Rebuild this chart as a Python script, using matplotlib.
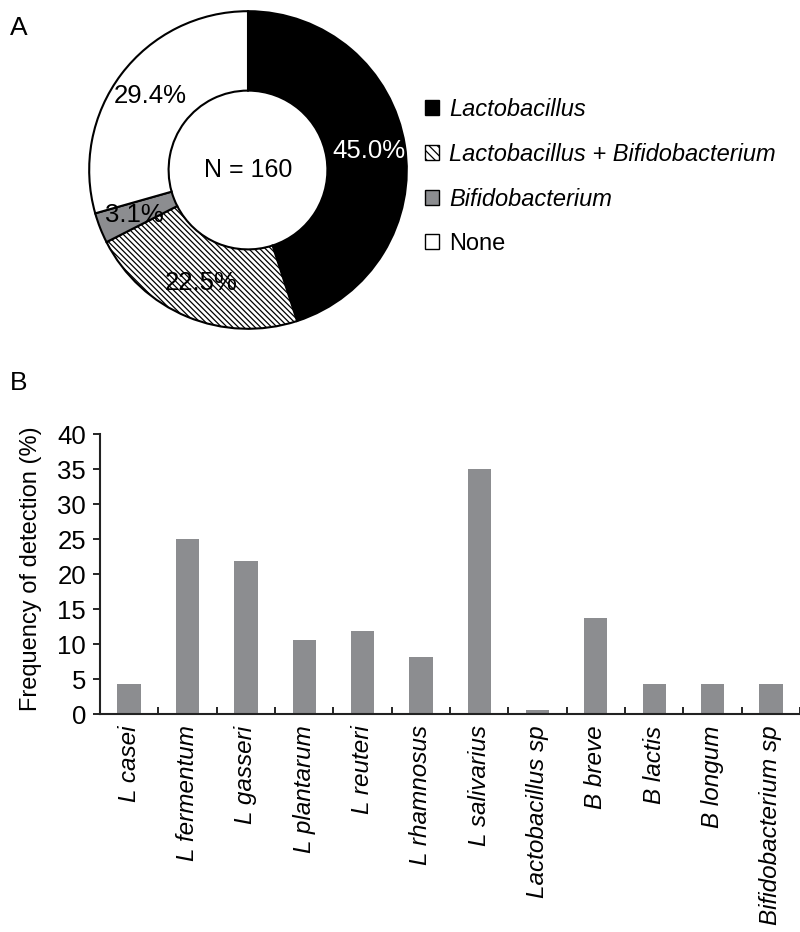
import matplotlib
matplotlib.use('Agg')
import matplotlib.pyplot as plt
from matplotlib.patches import Patch
import numpy as np

#%% Plot features
plt.rcParams.update({'font.family': ['Liberation Sans', 'DejaVu Sans'], 'font.size': 17,
                     'hatch.linewidth': 0.9})

# Panel A data
pie_labels = ['Lactobacillus', 'Lactobacillus + Bifidobacterium', 'Bifidobacterium', 'None']
pie_values = [45.0, 22.5, 3.1, 29.4]
sample_n = 160

# Panel B data
species = ['L casei', 'L fermentum', 'L gasseri', 'L plantarum', 'L reuteri', 'L rhamnosus',
           'L salivarius', 'Lactobacillus sp', 'B breve', 'B lactis', 'B longum', 'Bifidobacterium sp']
frequency = [4.375, 25.0, 21.875, 10.625, 11.875, 8.125, 35.0, 0.625, 13.75, 4.375, 4.375, 4.375]

grey = '#8c8d90'
fig = plt.figure(figsize=(8, 9.32), dpi=100)

#%% A: donut
ax1 = fig.add_axes([0.1075, 0.6438, 0.405, 0.3476])
wedges, texts, autotexts = ax1.pie(
    pie_values, startangle=90, counterclock=False,
    colors=['black', 'white', grey, 'white'],
    wedgeprops={'width': 0.5, 'edgecolor': 'black', 'linewidth': 1.5},
    autopct='%.1f%%', pctdistance=0.77, textprops={'fontsize': 18.5})
wedges[1].set_hatch('\\\\\\\\\\\\')
autotexts[0].set_color('white')
ax1.text(0, 0, 'N = %d' % sample_n, ha='center', va='center', fontsize=18)
ax1.set_xlim(-1.02, 1.02)
ax1.set_ylim(-1.02, 1.02)
ax1.set_aspect('equal')

handles = [Patch(facecolor='black', edgecolor='black'),
           Patch(facecolor='white', edgecolor='black', hatch='\\\\\\\\'),
           Patch(facecolor=grey, edgecolor='black'),
           Patch(facecolor='white', edgecolor='black')]
leg = fig.legend(handles, pie_labels, loc='upper left', bbox_to_anchor=(0.505, 0.918),
                 frameon=False, handlelength=0.6, handleheight=0.6, handletextpad=0.4,
                 labelspacing=0.94, fontsize=17)
for t in leg.get_texts()[:3]:
    t.set_style('italic')

fig.text(0.012, 0.983, 'A', fontsize=19, va='top')
fig.text(0.012, 0.602, 'B', fontsize=19, va='top')

#%% B: bars
ax2 = fig.add_axes([0.125, 0.2336, 0.875, 0.3004])
x = np.arange(len(species))
ax2.bar(x, frequency, width=0.4, color=grey)
ax2.set_xlim(-0.5, len(species) - 0.5)
ax2.set_ylim(0, 40)
ax2.set_yticks(range(0, 41, 5))
ax2.set_xticks(x)
ax2.set_xticklabels(species, rotation=90, style='italic', fontsize=17.5)
ax2.set_xticks(np.arange(-0.5, len(species)), minor=True)
ax2.tick_params(axis='x', which='major', length=0, pad=8)
ax2.tick_params(axis='x', which='minor', direction='in', length=5, width=1.2)
ax2.tick_params(axis='y', direction='out', length=5, width=1.2, labelsize=18.5, pad=5)
for s in ['top', 'right']:
    ax2.spines[s].set_visible(False)
for s in ['left', 'bottom']:
    ax2.spines[s].set_linewidth(1.5)
    ax2.spines[s].set_color('#222222')
ax2.set_ylabel('Frequency of detection (%)', fontsize=17)
ax2.yaxis.set_label_coords(-0.083, 0.52)

plt.savefig('out.png', dpi=100)
plt.close(fig)
